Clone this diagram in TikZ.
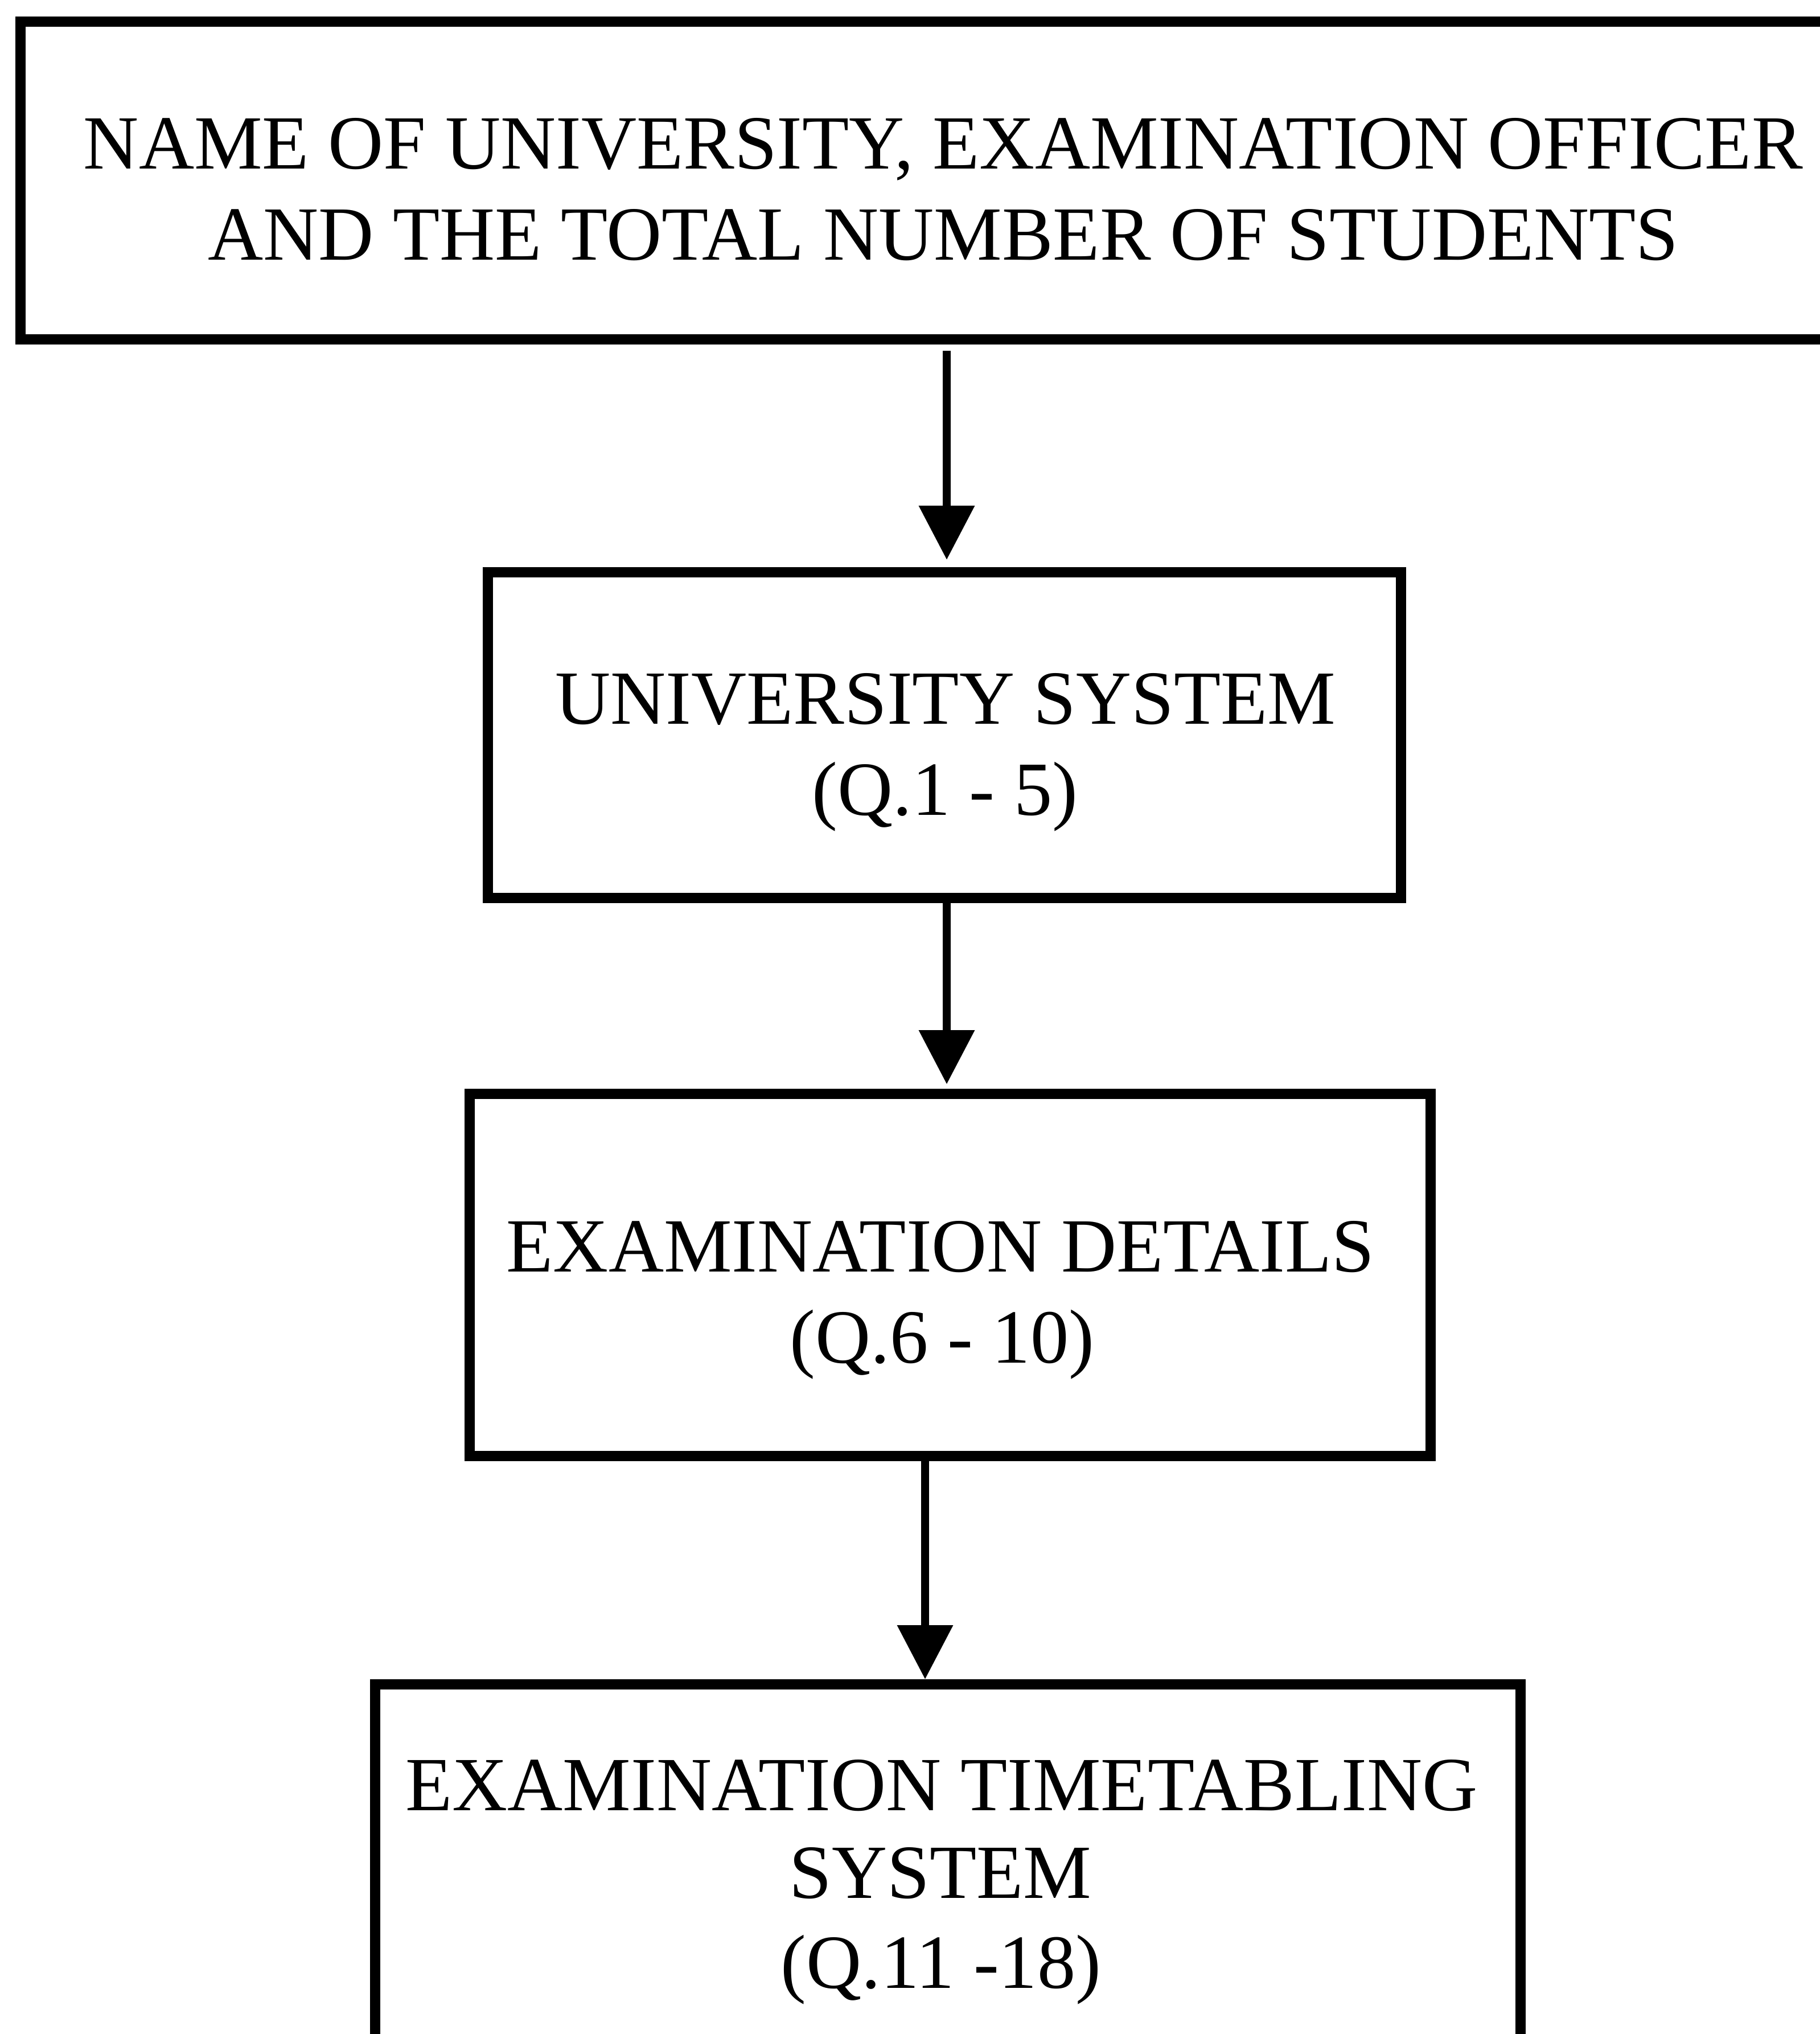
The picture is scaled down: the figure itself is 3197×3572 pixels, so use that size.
\documentclass[tikz,border=0pt]{standalone}
\usepackage{fontspec}
\setmainfont{Liberation Serif}
\usetikzlibrary{arrows.meta}
\begin{document}
\begin{tikzpicture}[x=0.2pt,y=-0.2pt,
  box/.style={draw=black, line width=3.6pt, rectangle, inner sep=0pt},
  lbl/.style={anchor=base, inner sep=0pt, font=\fontsize{26.9pt}{32pt}\selectfont},
  flow/.style={line width=2.8pt, -{Triangle[length=19pt,width=19pt]}}]
\useasboundingbox (0,0) rectangle (3197,3572);

% boxes (centres in page pixels, sizes in pt)
\node[box, minimum width=640.8pt, minimum height=111.6pt] (top)  at (1638,317)  {};
\node[box, minimum width=320.8pt, minimum height=114.4pt] (univ) at (1659,1291) {};
\node[box, minimum width=337.6pt, minimum height=127.2pt] (exam) at (1669,2239) {};
\node[box, minimum width=402.4pt, minimum height=148.4pt] (time) at (1665,3329) {};

% labels
\node[lbl] (t1a) at (1657,296)  {NAME OF UNIVERSITY, EXAMINATION OFFICER};
\node[lbl] (t1b) at (1657,456)  {AND THE TOTAL NUMBER OF STUDENTS};
\node[lbl] (t2a) at (1661,1271) {UNIVERSITY SYSTEM};
\node[lbl] (t2b) at (1660,1431) {(Q.1 - 5)};
\node[lbl] (t3a) at (1652,2233) {EXAMINATION DETAILS};
\node[lbl] (t3b) at (1655,2393) {(Q.6 - 10)};
\node[lbl] (t4a) at (1654,3179) {EXAMINATION TIMETABLING};
\node[lbl] (t4b) at (1652,3333) {SYSTEM};
\node[lbl] (t4c) at (1653,3491) {(Q.11 -18)};

% connector columns
\coordinate (c1) at (1663,0);
\coordinate (c3) at (1625,0);

\draw[flow, shorten <=2.2pt, shorten >=2.6pt] (top.south -| c1) -- (univ.north -| c1);
\draw[flow, shorten >=1.6pt] (univ.south -| c1) -- (exam.north -| c1);
\draw[flow] (exam.south -| c3) -- (time.north -| c3);
\end{tikzpicture}
\end{document}
